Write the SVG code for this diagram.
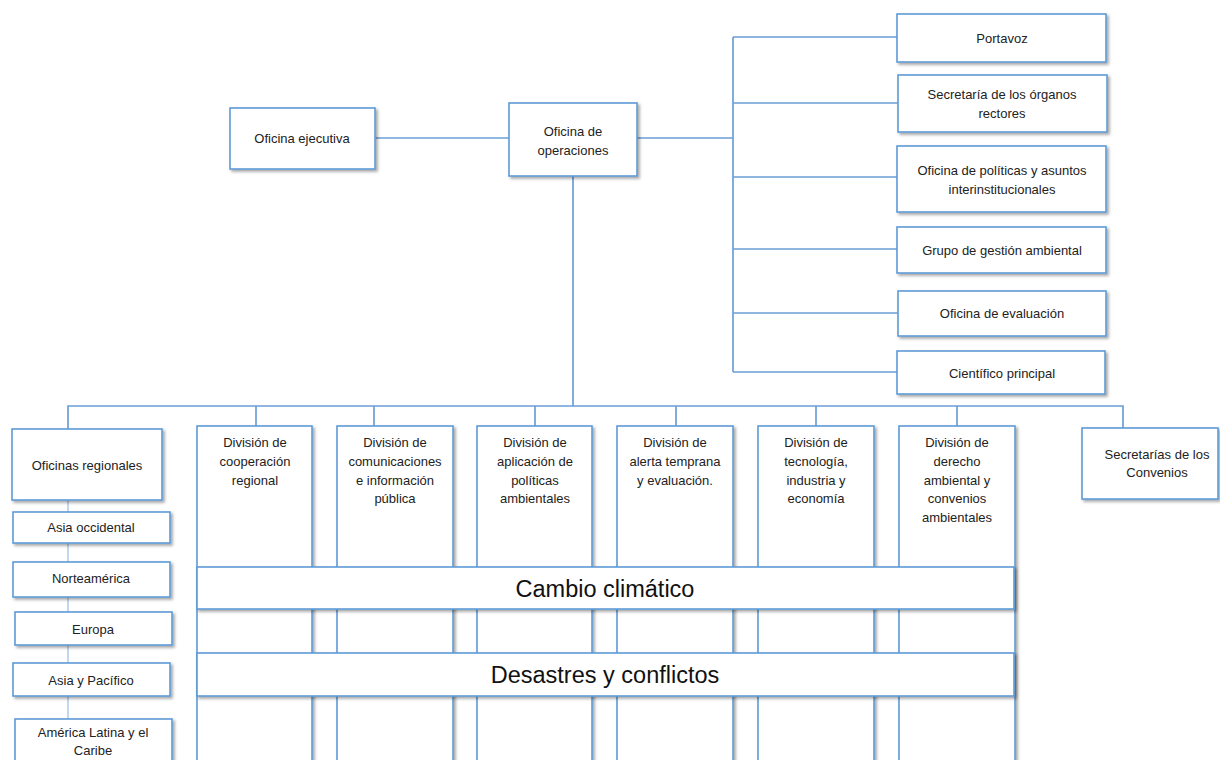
<svg xmlns="http://www.w3.org/2000/svg" width="1220" height="760" viewBox="0 0 1220 760">
<defs>
<filter id="sh" x="-10%" y="-10%" width="130%" height="130%">
<feDropShadow dx="2" dy="2" stdDeviation="1.5" flood-color="#000" flood-opacity="0.35"/>
</filter>
<style>
.b{fill:#fff;stroke:#5f9bd6;stroke-width:1.6;filter:url(#sh)}
.c{fill:none;stroke:#6a9fd8;stroke-width:1.7}
.l{fill:none;stroke:#a8c6ea;stroke-width:1.4}
text{font-family:"Liberation Sans",Arial,sans-serif;font-size:13px;fill:#222;text-anchor:middle}
.big{font-size:23.5px;fill:#111}
</style>
</defs>
<rect width="1220" height="760" fill="#fff"/>
<g id="connectors">
<path class="c" d="M375 138H509"/>
<path class="c" d="M573 176V406"/>
<path class="c" d="M637 138H733M733 37V372M733 37H897M733 103H898M733 177H897M733 249H897M733 313H898M733 372H897"/>
<path class="c" d="M68 429V406H1123V428M256 406V426M374 406V426M535 406V426M676 406V426M816 406V426M957 406V426"/>
<path class="l" d="M68 500V760"/>
</g>
<g id="oficina-ejecutiva"><rect class="b" x="230" y="108" width="145" height="61"/><text x="302" y="143">Oficina ejecutiva</text></g>
<g id="oficina-operaciones"><rect class="b" x="509" y="103" width="128" height="73"/><text x="573" y="136">Oficina de</text><text x="573" y="155">operaciones</text></g>
<g id="portavoz"><rect class="b" x="897" y="14" width="209" height="48"/><text x="1002" y="43">Portavoz</text></g>
<g id="secretaria-organos"><rect class="b" x="898" y="75" width="209" height="57"/><text x="1002" y="99">Secretaría de los órganos</text><text x="1002" y="118">rectores</text></g>
<g id="oficina-politicas"><rect class="b" x="897" y="146" width="209" height="66"/><text x="1002" y="175">Oficina de políticas y asuntos</text><text x="1002" y="194">interinstitucionales</text></g>
<g id="grupo-gestion"><rect class="b" x="897" y="227" width="209" height="46"/><text x="1002" y="255">Grupo de gestión ambiental</text></g>
<g id="oficina-evaluacion"><rect class="b" x="898" y="291" width="208" height="45"/><text x="1002" y="318">Oficina de evaluación</text></g>
<g id="cientifico-principal"><rect class="b" x="897" y="351" width="208" height="43"/><text x="1002" y="378">Científico principal</text></g>
<g id="oficinas-regionales"><rect class="b" x="12" y="429" width="150" height="71"/><text x="87" y="470">Oficinas regionales</text></g>
<g id="asia-occidental"><rect class="b" x="13" y="512" width="157" height="31"/><text x="91" y="532">Asia occidental</text></g>
<g id="norteamerica"><rect class="b" x="13" y="562" width="157" height="35"/><text x="91" y="583">Norteamérica</text></g>
<g id="europa"><rect class="b" x="15" y="612" width="157" height="33"/><text x="93" y="634">Europa</text></g>
<g id="asia-pacifico"><rect class="b" x="13" y="663" width="157" height="33"/><text x="91" y="685">Asia y Pacífico</text></g>
<g id="america-latina"><rect class="b" x="15" y="719" width="157" height="60"/><text x="93" y="737">América Latina y el</text><text x="93" y="755">Caribe</text></g>
<g id="div-cooperacion"><rect class="b" x="197" y="426" width="115" height="350"/><text x="255" y="447">División de</text><text x="255" y="466">cooperación</text><text x="255" y="485">regional</text></g>
<g id="div-comunicaciones"><rect class="b" x="337" y="426" width="116" height="350"/><text x="395" y="447">División de</text><text x="395" y="466">comunicaciones</text><text x="395" y="485">e información</text><text x="395" y="503">pública</text></g>
<g id="div-aplicacion"><rect class="b" x="477" y="426" width="115" height="350"/><text x="535" y="447">División de</text><text x="535" y="466">aplicación de</text><text x="535" y="485">políticas</text><text x="535" y="503">ambientales</text></g>
<g id="div-alerta"><rect class="b" x="617" y="426" width="116" height="350"/><text x="675" y="447">División de</text><text x="675" y="466">alerta temprana</text><text x="675" y="485">y evaluación.</text></g>
<g id="div-tecnologia"><rect class="b" x="758" y="426" width="116" height="350"/><text x="816" y="447">División de</text><text x="816" y="466">tecnología,</text><text x="816" y="485">industria y</text><text x="816" y="503">economía</text></g>
<g id="div-derecho"><rect class="b" x="899" y="426" width="116" height="350"/><text x="957" y="447">División de</text><text x="957" y="466">derecho</text><text x="957" y="485">ambiental y</text><text x="957" y="503">convenios</text><text x="957" y="522">ambientales</text></g>
<g id="secretarias-convenios"><rect class="b" x="1082" y="428" width="136" height="71"/><text x="1157" y="459">Secretarías de los</text><text x="1157" y="477">Convenios</text></g>
<g id="cambio-climatico"><rect class="b" x="197" y="567" width="817" height="42"/><text class="big" x="605" y="597">Cambio climático</text></g>
<g id="desastres-conflictos"><rect class="b" x="197" y="653" width="817" height="43"/><text class="big" x="605" y="683">Desastres y conflictos</text></g>
</svg>
